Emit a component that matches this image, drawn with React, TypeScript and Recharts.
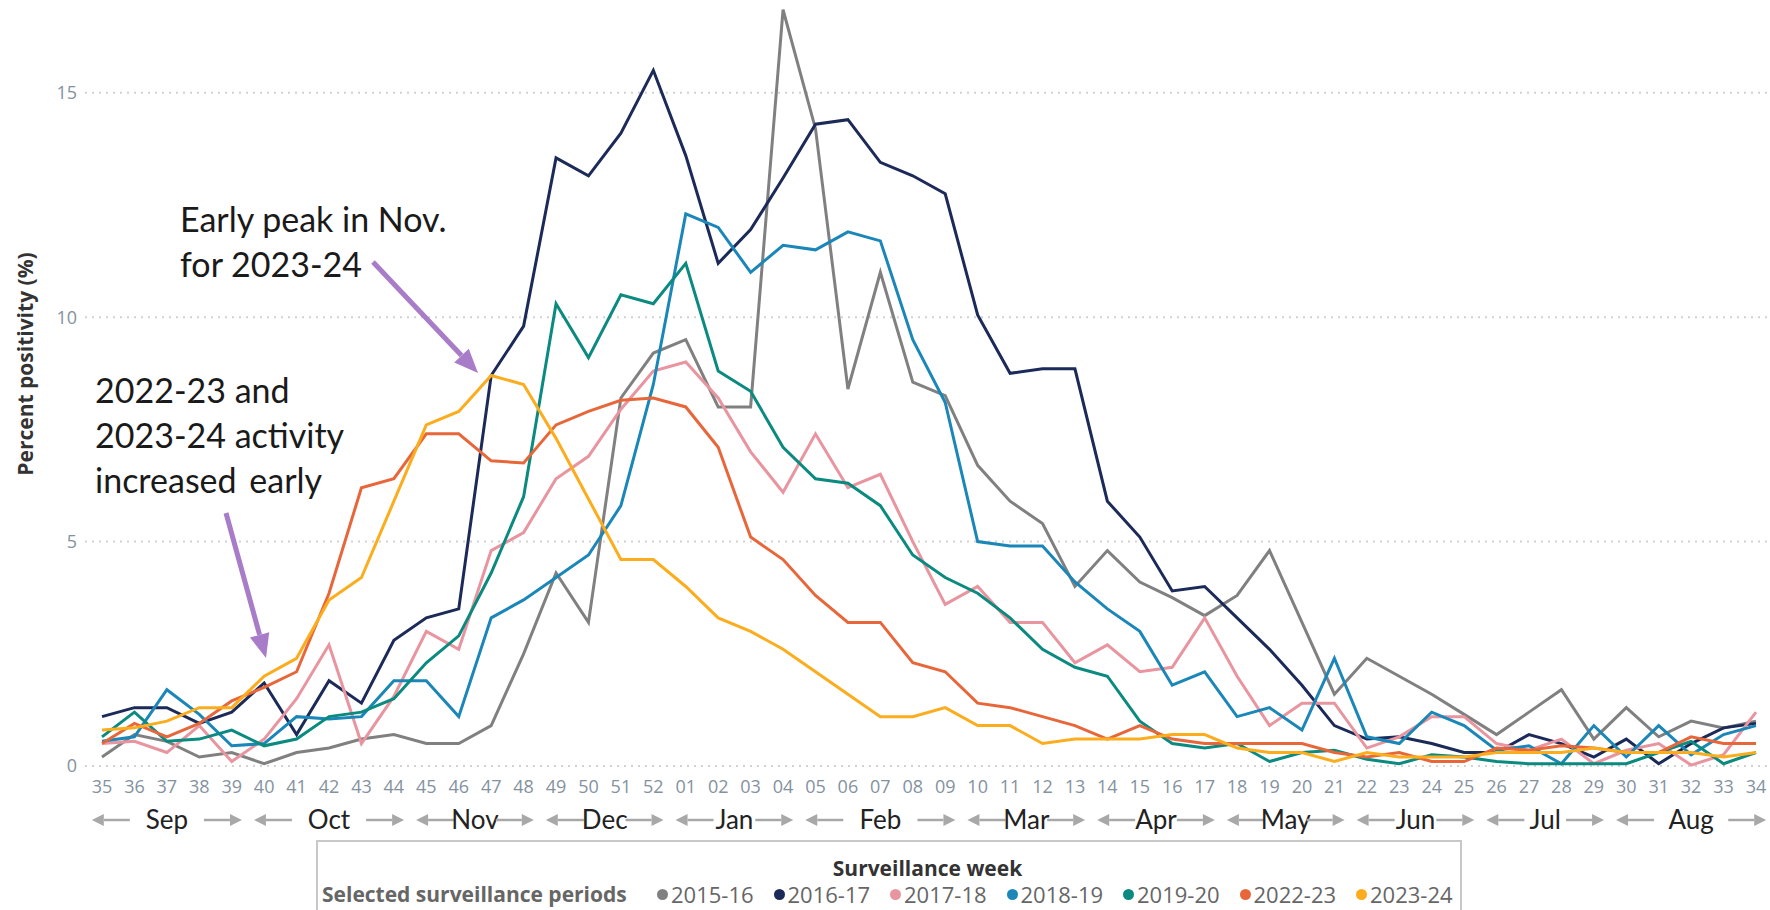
// 인플루엔자 양성률 — 절기별 주간 추이 차트

import React from 'react';
import { LineChart, Line, XAxis, YAxis, CartesianGrid } from 'recharts';

document.body.style.margin = '0';

// ── 데이터 ──

const WEEKS = [
  '35', '36', '37', '38', '39', '40', '41', '42', '43', '44', '45', '46', '47', '48', '49', '50', '51', '52',
  '01', '02', '03', '04', '05', '06', '07', '08', '09', '10', '11', '12', '13', '14', '15', '16', '17',
  '18', '19', '20', '21', '22', '23', '24', '25', '26', '27', '28', '29', '30', '31', '32', '33', '34',
];

const P2015_16 = [
  0.2, 0.7, 0.55, 0.2, 0.3, 0.05, 0.3, 0.4, 0.6, 0.7, 0.5, 0.5, 0.9, 2.5, 4.3, 3.2, 8.2, 9.2,
  9.5, 8.0, 8.0, 16.85, 14.2, 8.4, 11.0, 8.55, 8.25, 6.7, 5.9, 5.4, 4.0, 4.8, 4.1, 3.75, 3.35,
  3.8, 4.8, 3.2, 1.6, 2.4, 2.0, 1.6, 1.15, 0.7, 1.2, 1.7, 0.6, 1.3, 0.65, 1.0, 0.85, 1.0,
];
const P2016_17 = [
  1.1, 1.3, 1.3, 0.95, 1.2, 1.85, 0.7, 1.9, 1.4, 2.8, 3.3, 3.5, 8.7, 9.8, 13.55, 13.15, 14.1, 15.5,
  13.6, 11.2, 11.95, 13.1, 14.3, 14.4, 13.45, 13.15, 12.75, 10.05, 8.75, 8.85, 8.85, 5.9, 5.1, 3.9, 4.0,
  3.3, 2.6, 1.8, 0.9, 0.6, 0.65, 0.5, 0.3, 0.3, 0.7, 0.5, 0.2, 0.6, 0.05, 0.5, 0.85, 0.95,
];
const P2017_18 = [
  0.5, 0.55, 0.3, 0.9, 0.1, 0.6, 1.5, 2.7, 0.5, 1.55, 3.0, 2.6, 4.8, 5.2, 6.4, 6.9, 7.95, 8.8,
  9.0, 8.2, 7.0, 6.1, 7.4, 6.2, 6.5, 5.0, 3.6, 4.0, 3.2, 3.2, 2.3, 2.7, 2.1, 2.2, 3.3,
  2.0, 0.9, 1.4, 1.4, 0.4, 0.65, 1.1, 1.1, 0.5, 0.35, 0.6, 0.05, 0.35, 0.5, 0.02, 0.25, 1.2,
];
const P2018_19 = [
  0.55, 0.65, 1.7, 1.15, 0.45, 0.5, 1.1, 1.05, 1.1, 1.9, 1.9, 1.1, 3.3, 3.7, 4.2, 4.7, 5.8, 8.5,
  12.3, 12.0, 11.0, 11.6, 11.5, 11.9, 11.7, 9.5, 8.1, 5.0, 4.9, 4.9, 4.1, 3.5, 3.0, 1.8, 2.1,
  1.1, 1.3, 0.8, 2.4, 0.65, 0.5, 1.2, 0.9, 0.35, 0.45, 0.05, 0.9, 0.2, 0.9, 0.25, 0.7, 0.9,
];
const P2019_20 = [
  0.65, 1.2, 0.55, 0.6, 0.8, 0.45, 0.6, 1.1, 1.2, 1.5, 2.3, 2.9, 4.3, 6.0, 10.3, 9.1, 10.5, 10.3,
  11.2, 8.8, 8.35, 7.1, 6.4, 6.3, 5.8, 4.7, 4.2, 3.85, 3.3, 2.6, 2.2, 2.0, 1.0, 0.5, 0.4,
  0.5, 0.1, 0.3, 0.35, 0.15, 0.05, 0.25, 0.2, 0.1, 0.05, 0.05, 0.05, 0.05, 0.3, 0.55, 0.05, 0.3,
];
const P2022_23 = [
  0.5, 0.95, 0.65, 0.95, 1.45, 1.75, 2.1, 3.85, 6.2, 6.4, 7.4, 7.4, 6.8, 6.75, 7.6, 7.9, 8.15, 8.2,
  8.0, 7.1, 5.1, 4.6, 3.8, 3.2, 3.2, 2.3, 2.1, 1.4, 1.3, 1.1, 0.9, 0.6, 0.9, 0.6, 0.5,
  0.5, 0.5, 0.5, 0.3, 0.2, 0.3, 0.1, 0.1, 0.4, 0.35, 0.45, 0.4, 0.3, 0.3, 0.65, 0.5, 0.5,
];
const P2023_24 = [
  0.8, 0.85, 1.0, 1.3, 1.3, 2.0, 2.4, 3.7, 4.2, 5.9, 7.6, 7.9, 8.7, 8.5, 7.3, 5.95, 4.6, 4.6,
  4.0, 3.3, 3.0, 2.6, 2.1, 1.6, 1.1, 1.1, 1.3, 0.9, 0.9, 0.5, 0.6, 0.6, 0.6, 0.7, 0.7,
  0.4, 0.3, 0.3, 0.1, 0.3, 0.2, 0.2, 0.2, 0.3, 0.3, 0.3, 0.4, 0.3, 0.3, 0.3, 0.2, 0.3,
];

const PERIODS = ['2015-16', '2016-17', '2017-18', '2018-19', '2019-20', '2022-23', '2023-24'];
const PERIOD_VALUES = [P2015_16, P2016_17, P2017_18, P2018_19, P2019_20, P2022_23, P2023_24];
const PERIOD_COLORS = ['#808080', '#1b2a58', '#e8959f', '#1a87b8', '#0b8a80', '#e8673a', '#fbad1e'];

const Y_TICKS = [0, 5, 10, 15];

const MONTHS = ['Sep', 'Oct', 'Nov', 'Dec', 'Jan', 'Feb', 'Mar', 'Apr', 'May', 'Jun', 'Jul', 'Aug'];
const MONTH_FIRST_WEEK = ['35', '40', '45', '49', '01', '05', '10', '14', '18', '22', '26', '30'];
const MONTH_WEEK_COUNT = [5, 5, 4, 4, 4, 5, 4, 4, 4, 4, 4, 5];

const chartData = WEEKS.map((week, i) => {
  const row: Record<string, string | number> = { week };
  PERIODS.forEach((p, k) => {
    row[p] = PERIOD_VALUES[k][i];
  });
  return row;
});

// ── 레이아웃 ──

const CHART_W = 1770;
const CHART_H = 910;
const Y_AXIS_W = 85;
const X_AXIS_H = 144;
const PAD_L = 17;
const PAD_R = 14;
const STEP = (CHART_W - Y_AXIS_W - PAD_L - PAD_R) / (WEEKS.length - 1);

const TICK_COLOR = '#8492a0';
const ARROW_GRAY = '#a8a8a8';
const PURPLE = '#a87cc8';

// ── 월 구간 화살표 ──

function GrayArrow({ x0, x1, y, dir }: { x0: number; x1: number; y: number; dir: 'left' | 'right' }) {
  const head = 12;
  if (dir === 'left') {
    return (
      <g>
        <line x1={x0 + head} y1={y} x2={x1} y2={y} stroke={ARROW_GRAY} strokeWidth={2.5} />
        <polygon points={`${x0},${y} ${x0 + head},${y - 6} ${x0 + head},${y + 6}`} fill={ARROW_GRAY} />
      </g>
    );
  }
  return (
    <g>
      <line x1={x0} y1={y} x2={x1 - head} y2={y} stroke={ARROW_GRAY} strokeWidth={2.5} />
      <polygon points={`${x1},${y} ${x1 - head},${y - 6} ${x1 - head},${y + 6}`} fill={ARROW_GRAY} />
    </g>
  );
}

function WeekTick(props: any) {
  const { x, y, payload } = props;
  const week = String(payload.value);
  const m = MONTH_FIRST_WEEK.indexOf(week);
  const gs = x - STEP / 2;
  const ge = m >= 0 ? gs + MONTH_WEEK_COUNT[m] * STEP : gs;
  const cy = y + 54;
  return (
    <g>
      <text x={x} y={y + 27} textAnchor="middle" fontSize={18} fill={TICK_COLOR} fontFamily="Open Sans">
        {week}
      </text>
      {m >= 0 ? (
        <g>
          <GrayArrow x0={gs + 6} x1={gs + 44} y={cy} dir="left" />
          <text x={(gs + ge) / 2} y={cy + 9} textAnchor="middle" fontSize={26} fill="#222" fontFamily="Lato">
            {MONTHS[m]}
          </text>
          <GrayArrow x0={ge - 44} x1={ge - 6} y={cy} dir="right" />
        </g>
      ) : null}
    </g>
  );
}

// ── 주석 화살표 ──

function PurpleArrow({ x1, y1, x2, y2 }: { x1: number; y1: number; x2: number; y2: number }) {
  const len = Math.hypot(x2 - x1, y2 - y1);
  const ux = (x2 - x1) / len;
  const uy = (y2 - y1) / len;
  const hl = 24;
  const hw = 10;
  const bx = x2 - ux * hl;
  const by = y2 - uy * hl;
  return (
    <g>
      <line x1={x1} y1={y1} x2={bx} y2={by} stroke={PURPLE} strokeWidth={5} />
      <polygon
        points={`${x2},${y2} ${bx - uy * hw},${by + ux * hw} ${bx + uy * hw},${by - ux * hw}`}
        fill={PURPLE}
      />
    </g>
  );
}

function YTitle(props: any) {
  const { viewBox } = props;
  const cx = 25;
  const cy = viewBox.y + 361;
  return (
    <text
      x={cx}
      y={cy}
      transform={`rotate(-90 ${cx} ${cy})`}
      textAnchor="middle"
      dominantBaseline="central"
      fontSize={21}
      fontWeight={700}
      fill="#333"
      fontFamily="Open Sans"
    >
      Percent positivity (%)
    </text>
  );
}

// ── 메인 ──

export default function App() {
  return (
    <div style={{ position: 'relative', width: CHART_W, height: CHART_H, background: '#fff', overflow: 'hidden' }}>
      <LineChart width={CHART_W} height={CHART_H} data={chartData} margin={{ top: 3, right: 0, bottom: 0, left: 0 }}>
        <CartesianGrid
          vertical={false}
          horizontalValues={Y_TICKS}
          stroke="#d2d2d2"
          strokeWidth={2}
          strokeDasharray="2 5"
        />
        <XAxis
          dataKey="week"
          interval={0}
          height={X_AXIS_H}
          padding={{ left: PAD_L, right: PAD_R }}
          axisLine={false}
          tickLine={false}
          tickSize={0}
          tickMargin={0}
          tick={(p: any) => <WeekTick {...p} />}
          label={{
            value: 'Surveillance week',
            position: 'insideBottom',
            offset: 34,
            fontSize: 21,
            fontWeight: 700,
            fill: '#333',
            fontFamily: 'Open Sans',
          }}
        />
        <YAxis
          width={Y_AXIS_W}
          domain={[0, 17]}
          ticks={Y_TICKS}
          axisLine={false}
          tickLine={false}
          tickSize={0}
          tickMargin={8}
          tick={{ fontSize: 18, fill: TICK_COLOR, fontFamily: 'Open Sans' }}
          label={<YTitle />}
        />
        {PERIODS.map((p, k) => (
          <Line
            key={p}
            type="linear"
            dataKey={p}
            stroke={PERIOD_COLORS[k]}
            strokeWidth={3}
            dot={false}
            isAnimationActive={false}
          />
        ))}
      </LineChart>

      {/* 주석 */}
      <svg
        width={CHART_W}
        height={CHART_H}
        style={{ position: 'absolute', left: 0, top: 0, pointerEvents: 'none' }}
        fontFamily="Lato"
      >
        <text x={180} y={232} fontSize={34} fill="#1a1a1a">Early peak in Nov.</text>
        <text x={180} y={277} fontSize={34} fill="#1a1a1a">for 2023-24</text>
        <PurpleArrow x1={373} y1={262} x2={478} y2={373} />
        <text x={95} y={403} fontSize={34} fill="#1a1a1a">2022-23 and</text>
        <text x={95} y={448} fontSize={34} fill="#1a1a1a">2023-24 activity</text>
        <text x={95} y={493} fontSize={34} fill="#1a1a1a" wordSpacing={4}>increased early</text>
        <PurpleArrow x1={226} y1={513} x2={266} y2={658} />
      </svg>

      {/* 범례 상자 */}
      <div
        style={{
          position: 'absolute',
          left: 316,
          top: 840,
          width: 1146,
          height: 90,
          borderTop: '2px solid #c8c8c8',
          borderLeft: '2px solid #c8c8c8',
          borderRight: '2px solid #c8c8c8',
          boxSizing: 'border-box',
          pointerEvents: 'none',
        }}
      />
      <div
        style={{
          position: 'absolute',
          left: 322,
          top: 880,
          height: 28,
          display: 'flex',
          alignItems: 'center',
          fontFamily: 'Open Sans',
          fontSize: 21,
          fontWeight: 700,
          color: '#666',
          whiteSpace: 'nowrap',
        }}
      >
        Selected surveillance periods
      </div>
      {PERIODS.map((p, k) => (
        <div
          key={p}
          style={{
            position: 'absolute',
            left: 657 + k * 116.5,
            top: 880,
            height: 28,
            display: 'flex',
            alignItems: 'center',
            gap: 3,
            fontFamily: 'Open Sans',
            fontSize: 22,
            color: '#666',
            whiteSpace: 'nowrap',
          }}
        >
          <div style={{ width: 11, height: 11, borderRadius: '50%', background: PERIOD_COLORS[k] }} />
          <span>{p}</span>
        </div>
      ))}
    </div>
  );
}
